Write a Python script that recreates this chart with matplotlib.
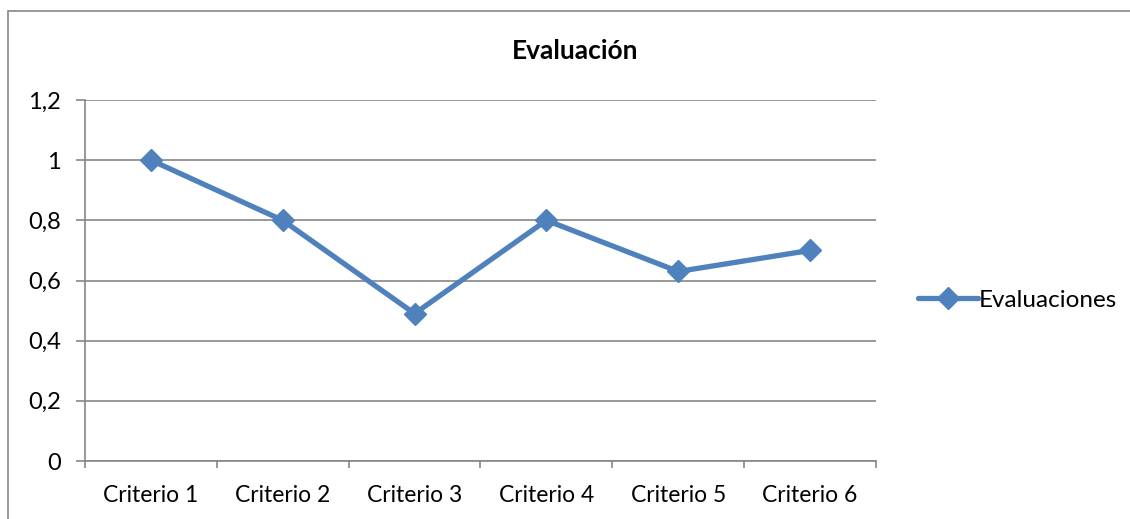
import matplotlib.pyplot as plt
from matplotlib.patches import Rectangle

criterios = ['Criterio 1', 'Criterio 2', 'Criterio 3', 'Criterio 4', 'Criterio 5', 'Criterio 6']
evaluaciones = [1.0, 0.8, 0.49, 0.8, 0.63, 0.7]
y_ticks = [0, 0.2, 0.4, 0.6, 0.8, 1.0, 1.2]
y_labels = ['0', '0,2', '0,4', '0,6', '0,8', '1', '1,2']

plt.rcParams['font.family'] = ['Lato', 'DejaVu Sans']

W, H = 1130, 519
fig = plt.figure(figsize=(W / 100, H / 100), dpi=100)

# marco exterior del gráfico (recortado a la derecha y abajo)
fig.patches.append(Rectangle((8 / W, -0.1), 1.2, 1 - 11 / H + 0.1, transform=fig.transFigure,
                             fill=False, edgecolor='#868686', linewidth=1.2))

ax = fig.add_axes([85 / W, 1 - 461 / H, (876 - 85) / W, (461 - 100) / H])
x = list(range(len(criterios)))
ax.plot(x, evaluaciones, color='#4F81BD', linewidth=3.8, marker='D', markersize=11,
        label='Evaluaciones', solid_capstyle='round')

ax.set_xlim(-0.5, len(criterios) - 0.5)
ax.set_ylim(0, 1.2)
ax.set_yticks(y_ticks)
ax.set_yticklabels(y_labels, fontsize=17)
ax.set_xticks([i - 0.5 for i in range(len(criterios) + 1)], minor=False)
ax.set_xticklabels([])
ax.set_xticks(x, minor=True)
ax.set_xticklabels(criterios, minor=True, fontsize=16.5)
ax.tick_params(axis='x', which='minor', length=0, pad=17)
ax.tick_params(axis='x', which='major', length=5, color='#868686', width=1.2)
ax.tick_params(axis='y', length=6.5, color='#868686', width=1.2, pad=11)
ax.grid(axis='y', color='#868686', linewidth=1.2)
ax.set_axisbelow(True)
for s in ['top', 'right']:
    ax.spines[s].set_visible(False)
for s in ['left', 'bottom']:
    ax.spines[s].set_color('#868686')
    ax.spines[s].set_linewidth(1.2)

fig.text(575 / W, 1 - 51 / H, 'Evaluación', ha='center', va='center', fontsize=19, fontweight='bold')
ax.legend(loc='center left', bbox_to_anchor=(906 / W, 1 - 300 / H), bbox_transform=fig.transFigure,
          frameon=False, fontsize=17.5, handlelength=2.45, handletextpad=0.05, borderpad=0)

fig.savefig('out.png', dpi=100)
